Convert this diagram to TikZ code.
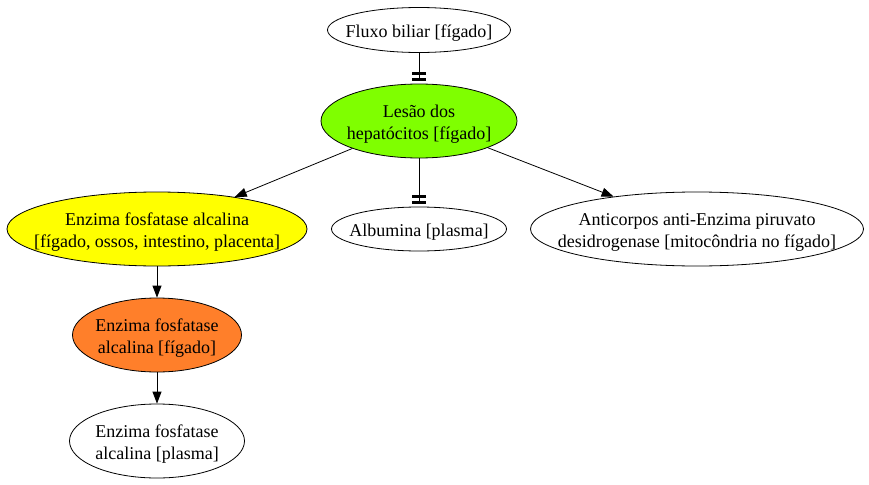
\documentclass[tikz,border=0pt]{standalone}
\usepackage{fontspec}
\setmainfont{Liberation Serif}
\usetikzlibrary{positioning, arrows.meta, shapes.geometric}
\definecolor{verde}{RGB}{127,255,0}
\definecolor{amarelo}{RGB}{255,255,0}
\definecolor{laranja}{RGB}{255,127,42}
\newcommand{\rotulo}[1]{\makebox[0pt]{\raisebox{-7.5bp}[0pt][0pt]{\begin{tabular}{@{}c@{}}#1\end{tabular}}}}

\begin{document}
\begin{tikzpicture}[node distance=106bp,on grid,auto,
    elipse/.style={ellipse, draw, line width=0.8bp, inner sep=0pt,
        font=\fontsize{18bp}{22bp}\selectfont},
    seta/.style={-{Triangle[length=12bp,width=9bp]}, line width=0.8bp},
    inibe/.style={-{Bar[width=14bp,line width=3bp,sep=3bp]Bar[width=14bp,line width=3bp]},
        line width=0.8bp, shorten >=3bp}]
    \useasboundingbox (0,0) rectangle (869bp,-485bp);
    \node[elipse, minimum width=183bp, minimum height=45bp] (fluxo) at (419bp,-30bp) {\rotulo{Fluxo biliar [fígado]}};
    \node[elipse, fill=verde, minimum width=196bp, minimum height=74bp] (lesao) [below=91bp of fluxo] {\rotulo{Lesão dos\\hepatócitos [fígado]}};
    \node[elipse, minimum width=175bp, minimum height=44bp] (albumina) [below=108bp of lesao] {\rotulo{Albumina [plasma]}};
    \node[elipse, fill=amarelo, minimum width=300bp, minimum height=74bp] (enzima) [left=262bp of albumina] {\rotulo{Enzima fosfatase alcalina\\{}[fígado, ossos, intestino, placenta]}};
    \node[elipse, minimum width=333bp, minimum height=74bp] (anticorpos) [right=278bp of albumina] {\rotulo{Anticorpos anti-Enzima piruvato\\desidrogenase [mitocôndria no fígado]}};
    \node[elipse, fill=laranja, minimum width=169bp, minimum height=74bp] (figado) [below of=enzima] {\rotulo{Enzima fosfatase\\alcalina [fígado]}};
    \node[elipse, minimum width=175bp, minimum height=74bp] (plasma) [below of=figado] {\rotulo{Enzima fosfatase\\alcalina [plasma]}};

    \path
    (fluxo) edge [inibe] (lesao)
    (lesao) edge [inibe] (albumina)
    (lesao) edge [seta] (enzima)
    (lesao) edge [seta] (anticorpos)
    (enzima) edge [seta] (figado)
    (figado) edge [seta] (plasma)
    ;
\end{tikzpicture}
\end{document}
